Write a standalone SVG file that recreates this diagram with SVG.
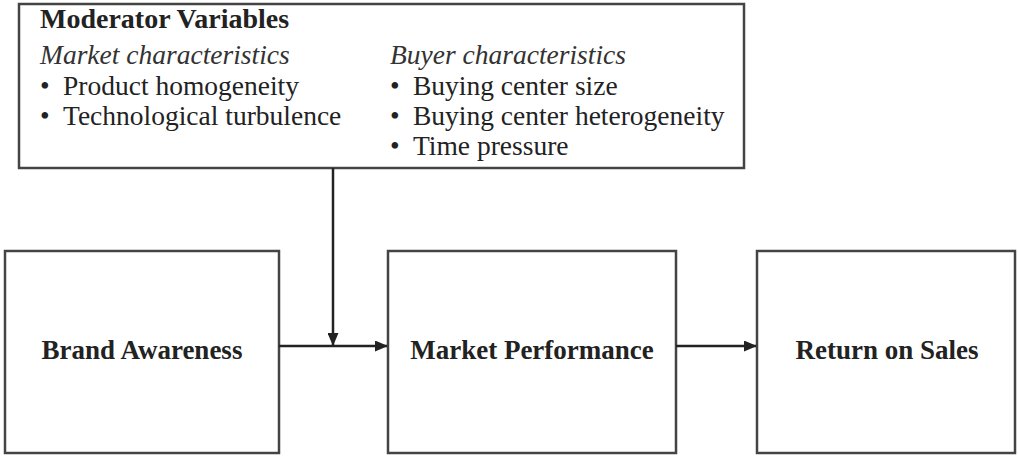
<svg xmlns="http://www.w3.org/2000/svg" width="1018" height="456" viewBox="0 0 1018 456">
  <style>
    .box { fill: #fff; stroke: #444; stroke-width: 2.5; }
    .conn { fill: none; stroke: #222; stroke-width: 2.5; }
    text { font-family: "Liberation Serif", "Times New Roman", serif; font-size: 27.5px; fill: #222; }
    .bold { font-weight: bold; font-size: 28px; }
    .ital { font-style: italic; fill: #333; }
    .label { font-weight: bold; font-size: 27px; text-anchor: middle; }
  </style>
  <defs>
    <marker id="arrow" viewBox="0 0 13 11" refX="12" refY="5.5" markerWidth="13" markerHeight="11" markerUnits="userSpaceOnUse" orient="auto">
      <path d="M0,0 L13,5.5 L0,11 Z" fill="#222"/>
    </marker>
  </defs>

  <rect width="1018" height="456" fill="#fff"/>

  <!-- Moderator panel -->
  <g id="moderators">
    <rect class="box" x="19" y="4" width="725" height="164"/>
    <text class="bold" x="40" y="28">Moderator Variables</text>
    <text class="ital" x="40" y="64">Market characteristics</text>
    <text y="95"><tspan x="40">•</tspan><tspan x="63">Product homogeneity</tspan></text>
    <text y="125"><tspan x="40">•</tspan><tspan x="63">Technological turbulence</tspan></text>
    <text class="ital" x="390" y="64">Buyer characteristics</text>
    <text y="95"><tspan x="390">•</tspan><tspan x="413">Buying center size</tspan></text>
    <text y="125"><tspan x="390">•</tspan><tspan x="413">Buying center heterogeneity</tspan></text>
    <text y="155"><tspan x="390">•</tspan><tspan x="413">Time pressure</tspan></text>
  </g>

  <g id="brand-awareness">
    <rect class="box" x="5" y="251" width="274" height="202"/>
    <text class="label" x="142" y="359">Brand Awareness</text>
  </g>

  <g id="market-performance">
    <rect class="box" x="388" y="251" width="288" height="202"/>
    <text class="label" x="532" y="359">Market Performance</text>
  </g>

  <g id="return-on-sales">
    <rect class="box" x="757" y="251" width="258" height="202"/>
    <text class="label" x="887" y="359">Return on Sales</text>
  </g>

  <!-- Connectors -->
  <g id="connectors">
    <line class="conn" x1="279" y1="346" x2="387" y2="346" marker-end="url(#arrow)"/>
    <line class="conn" x1="333" y1="168" x2="333" y2="345" marker-end="url(#arrow)"/>
    <line class="conn" x1="676" y1="346" x2="756" y2="346" marker-end="url(#arrow)"/>
  </g>
</svg>
